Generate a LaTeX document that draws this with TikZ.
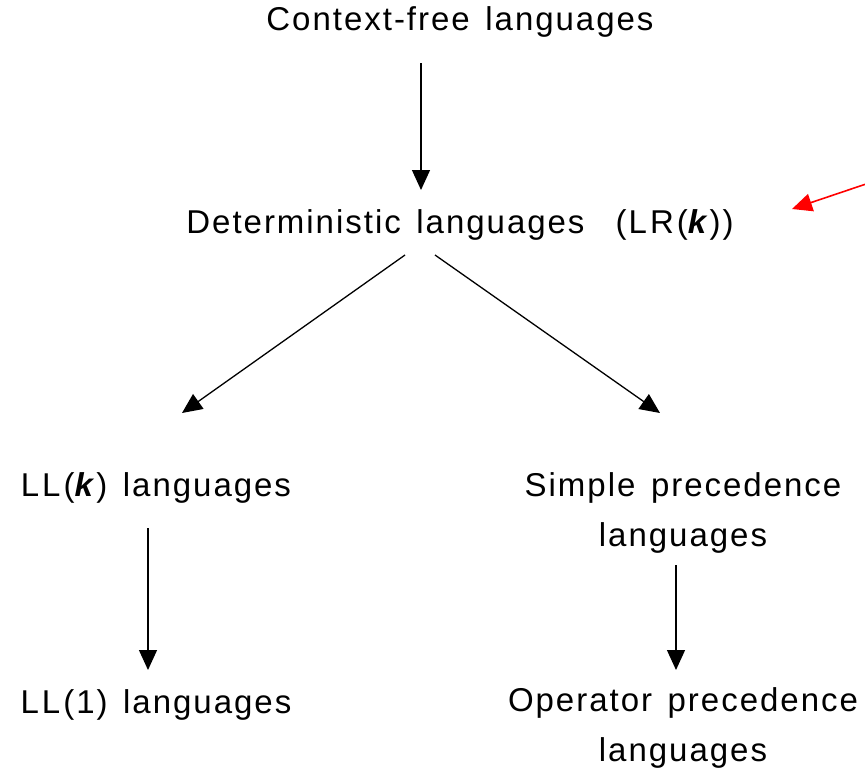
\documentclass[tikz,border=0pt]{standalone}
\usepackage{fontspec}
\setmainfont{Liberation Sans}[LetterSpace=6,WordSpace=1.4]
\usetikzlibrary{arrows.meta}
\newcommand{\kk}{\textit{\textbf{k}}}
\newcommand{\LLsp}{L\kern3pt L\kern3pt}
\begin{document}
\begin{tikzpicture}[x=1pt,y=-1pt,
  lbl/.style={inner sep=0pt,font=\fontsize{33}{50}\selectfont,align=center,anchor=center},
  conn/.style={line width=1.3pt,-{Triangle[length=20pt,width=18pt]}},
  note/.style={conn,red,line width=1.6pt}]
\useasboundingbox (0,0) rectangle (865,777);
\node[lbl] (cfl) at (460,22) {Context-free languages};
\node[lbl] (det) at (460,225) {Deterministic languages\ \ (L\kern3pt R\kern3pt(\kk))};
\node[lbl] (llk) at (156,488) {\LLsp(\kk) languages};
\node[lbl] (spl) at (683,513) {Simple precedence\\languages};
\node[lbl] (ll1) at (156,705) {\LLsp(1) languages};
\node[lbl] (opl) at (683,728) {Operator precedence\\languages};
\coordinate (a1s) at (421,63);   \coordinate (a1e) at (421,190);
\coordinate (a2s) at (405,255);  \coordinate (a2e) at (182,413);
\coordinate (a3s) at (435,255);  \coordinate (a3e) at (660,413);
\coordinate (a4s) at (148,528);  \coordinate (a4e) at (148,670);
\coordinate (a5s) at (676,565);  \coordinate (a5e) at (676,670);
\coordinate (rs) at (866,184);   \coordinate (re) at (792,209);
\draw[conn] (a1s) -- (a1e);
\draw[conn] (a2s) -- (a2e);
\draw[conn] (a3s) -- (a3e);
\draw[conn] (a4s) -- (a4e);
\draw[conn] (a5s) -- (a5e);
\draw[note] (rs) -- (re);
\end{tikzpicture}
\end{document}
